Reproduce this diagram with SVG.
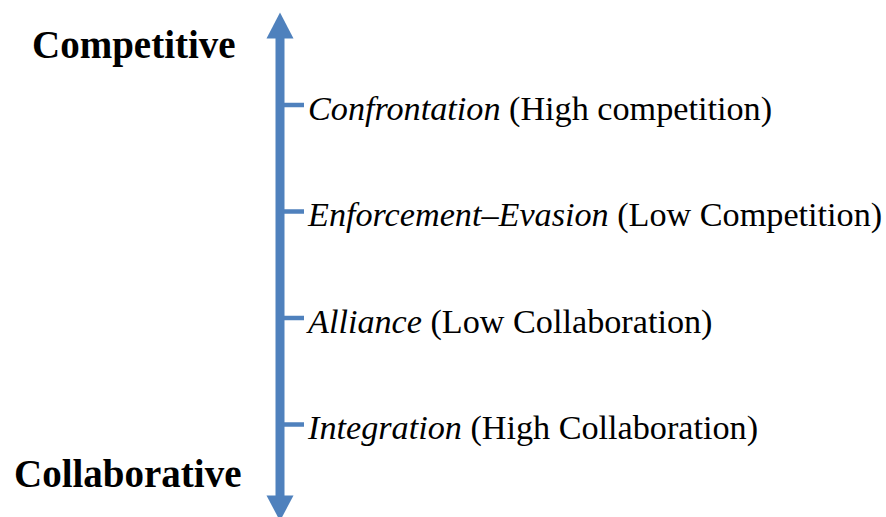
<svg xmlns="http://www.w3.org/2000/svg" width="886" height="517" viewBox="0 0 886 517">
<style>
.title{font-family:"Liberation Serif","Times New Roman",serif;font-weight:bold;font-size:39px;fill:#000}
.lbl{font-family:"Liberation Serif","Times New Roman",serif;font-size:34.2px;fill:#000}
.it{font-style:italic}
.axis{stroke:#4F81BD;stroke-width:9;fill:none}
.tick{stroke:#4F81BD;stroke-width:4.5;fill:none}
.head{fill:#4F81BD}
</style>
<rect width="886" height="517" fill="#fff"/>
<g id="connectors">
<line class="axis" x1="280" y1="36" x2="280" y2="498"/>
<polygon class="head" points="280,12.5 266.5,38.5 293.5,38.5"/>
<polygon class="head" points="280,521 266.5,495.5 293.5,495.5"/>
</g>
<g id="title-competitive"><text class="title" x="32" y="58">Competitive</text></g>
<g id="title-collaborative"><text class="title" x="14" y="487">Collaborative</text></g>
<g id="node-confrontation">
<line class="tick" x1="284" y1="105" x2="304" y2="105"/>
<text class="lbl" x="308" y="119.5"><tspan class="it">Confrontation</tspan> (High competition)</text>
</g>
<g id="node-enforcement">
<line class="tick" x1="284" y1="211.5" x2="304" y2="211.5"/>
<text class="lbl" x="308" y="226"><tspan class="it">Enforcement–Evasion</tspan> (Low Competition)</text>
</g>
<g id="node-alliance">
<line class="tick" x1="284" y1="318" x2="304" y2="318"/>
<text class="lbl" x="308" y="332.5"><tspan class="it">Alliance</tspan> (Low Collaboration)</text>
</g>
<g id="node-integration">
<line class="tick" x1="284" y1="424.5" x2="304" y2="424.5"/>
<text class="lbl" x="308" y="439"><tspan class="it">Integration</tspan> (High Collaboration)</text>
</g>
</svg>
